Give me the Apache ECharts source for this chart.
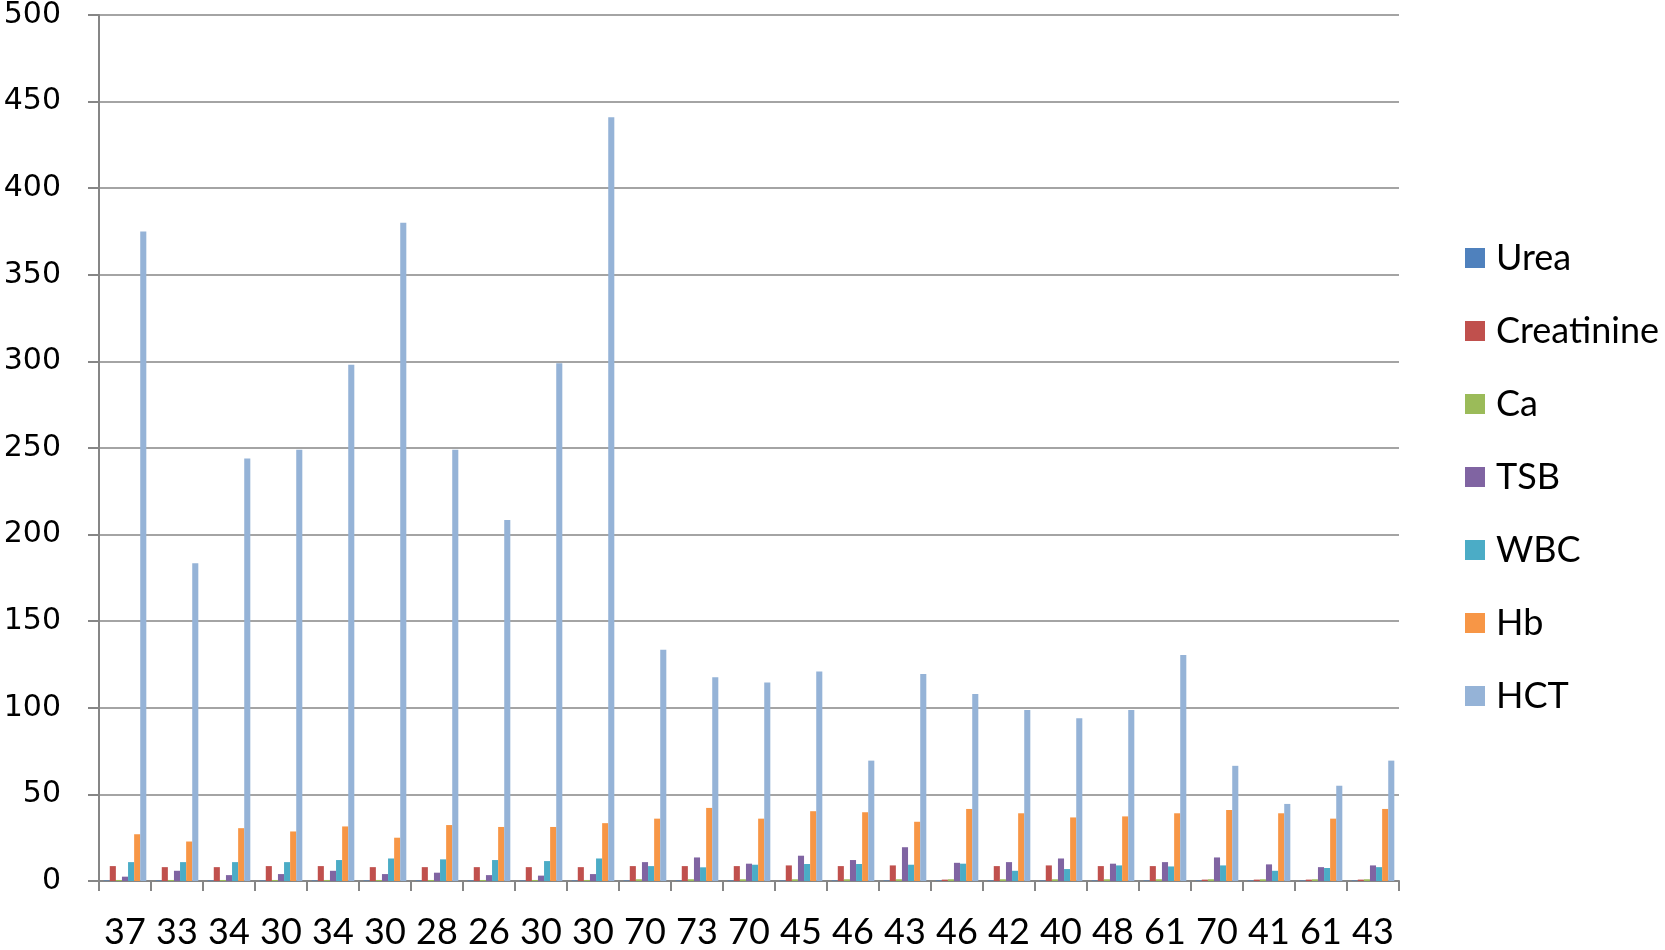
<!DOCTYPE html>
<html>
<head>
<meta charset="utf-8">
<script src="https://cdn.jsdelivr.net/npm/echarts@6/dist/echarts.min.js"></script>
<style>
html,body{margin:0;padding:0;background:#fff;}
#chart{width:1665px;height:950px;}
</style>
</head>
<body>
<div id="chart"></div>
<script>
var categories = ['37','33','34','30','34','30','28','26','30','30','70','73','70','45','46','43','46','42','40','48','61','70','41','61','43'];
var seriesNames = ['Urea','Creatinine','Ca','TSB','WBC','Hb','HCT'];
var urea = [0.3,0.3,0.3,0.3,0.3,0.3,0.3,0.3,0.3,0.3,0.3,0.3,0.3,0.3,0.3,0.3,0.3,0.3,0.3,0.3,0.3,0.3,0.3,0.3,0.3];
var creatinine = [8.6,8.0,8.0,8.6,8.6,8.0,8.0,8.0,8.0,8.0,8.6,8.6,8.6,9.0,8.6,9.0,0.8,8.6,9.0,8.6,8.6,0.8,0.8,0.8,0.8];
var ca = [0.6,0.6,0.6,0.6,0.6,0.6,0.6,0.6,0.6,0.6,1.0,1.0,1.0,1.0,1.0,1.0,1.0,1.0,1.0,1.0,1.0,1.0,1.0,1.0,1.0];
var tsb = [2.5,5.9,3.4,4.0,5.9,4.0,4.8,3.4,3.1,4.0,10.9,13.6,10.0,14.6,12.1,19.5,10.5,10.9,13.0,10.0,10.9,13.6,9.6,8.0,9.0];
var wbc = [10.9,10.9,10.9,10.9,12.1,13.0,12.5,12.1,11.5,13.0,8.6,7.9,9.4,9.8,9.8,9.4,10.0,5.9,6.9,9.0,8.4,9.0,5.9,7.5,8.0];
var hb = [27,22.8,30.5,28.6,31.5,25,32.3,31.2,31.2,33.4,36,42.2,36,40.3,39.7,34.2,41.6,39.1,36.7,37.3,39.1,41,39.1,36,41.6];
var hct = [375,183.5,244,249,298,380,249,208.5,299,441,133.5,117.7,114.6,121,69.5,119.5,108,98.8,93.9,98.8,130.5,66.5,44.5,55,69.5];
var yTicks = [0,50,100,150,200,250,300,350,400,450,500];

var colors = ['#4F81BD','#C0504D','#9BBB59','#8064A2','#4BACC6','#F79646','#95B3D7'];
var dataList = [urea, creatinine, ca, tsb, wbc, hb, hct];

var chart = echarts.init(document.getElementById('chart'), null, {renderer:'canvas'});
var series = seriesNames.map(function(n, i){
  return {
    name: n,
    type: 'bar',
    data: dataList[i],
    barGap: '0%',
    barCategoryGap: '18%',
    itemStyle: {color: colors[i]},
    animation: false
  };
});

chart.setOption({
  animation: false,
  color: colors,
  grid: {left: 99, top: 14, width: 1300, height: 873, containLabel: false},
  legend: {
    orient: 'vertical',
    left: 1465,
    top: 240,
    padding: 0,
    itemWidth: 20,
    itemHeight: 20,
    itemGap: 37,
    icon: 'rect',
    textStyle: {fontFamily: 'Lato', fontSize: 36, color: '#000', lineHeight: 36, padding: [0,0,0,6]},
    data: seriesNames
  },
  xAxis: {
    type: 'category',
    data: categories,
    axisLine: {lineStyle: {color: '#868686', width: 2}},
    axisTick: {show: true, length: 10, lineStyle: {color: '#868686', width: 2}},
    axisLabel: {fontFamily: 'Lato', fontSize: 36, color: '#000', margin: 33, interval: 0}
  },
  yAxis: {
    type: 'value',
    min: yTicks[0],
    max: yTicks[yTicks.length-1],
    interval: yTicks[1]-yTicks[0],
    axisLine: {show: true, lineStyle: {color: '#868686', width: 2}},
    axisTick: {show: true, length: 11, lineStyle: {color: '#868686', width: 2}},
    splitLine: {lineStyle: {color: '#868686', width: 1.5}},
    axisLabel: {fontFamily: 'DejaVu Sans', fontSize: 30, color: '#000', margin: 38}
  },
  series: series
});
</script>
</body>
</html>
